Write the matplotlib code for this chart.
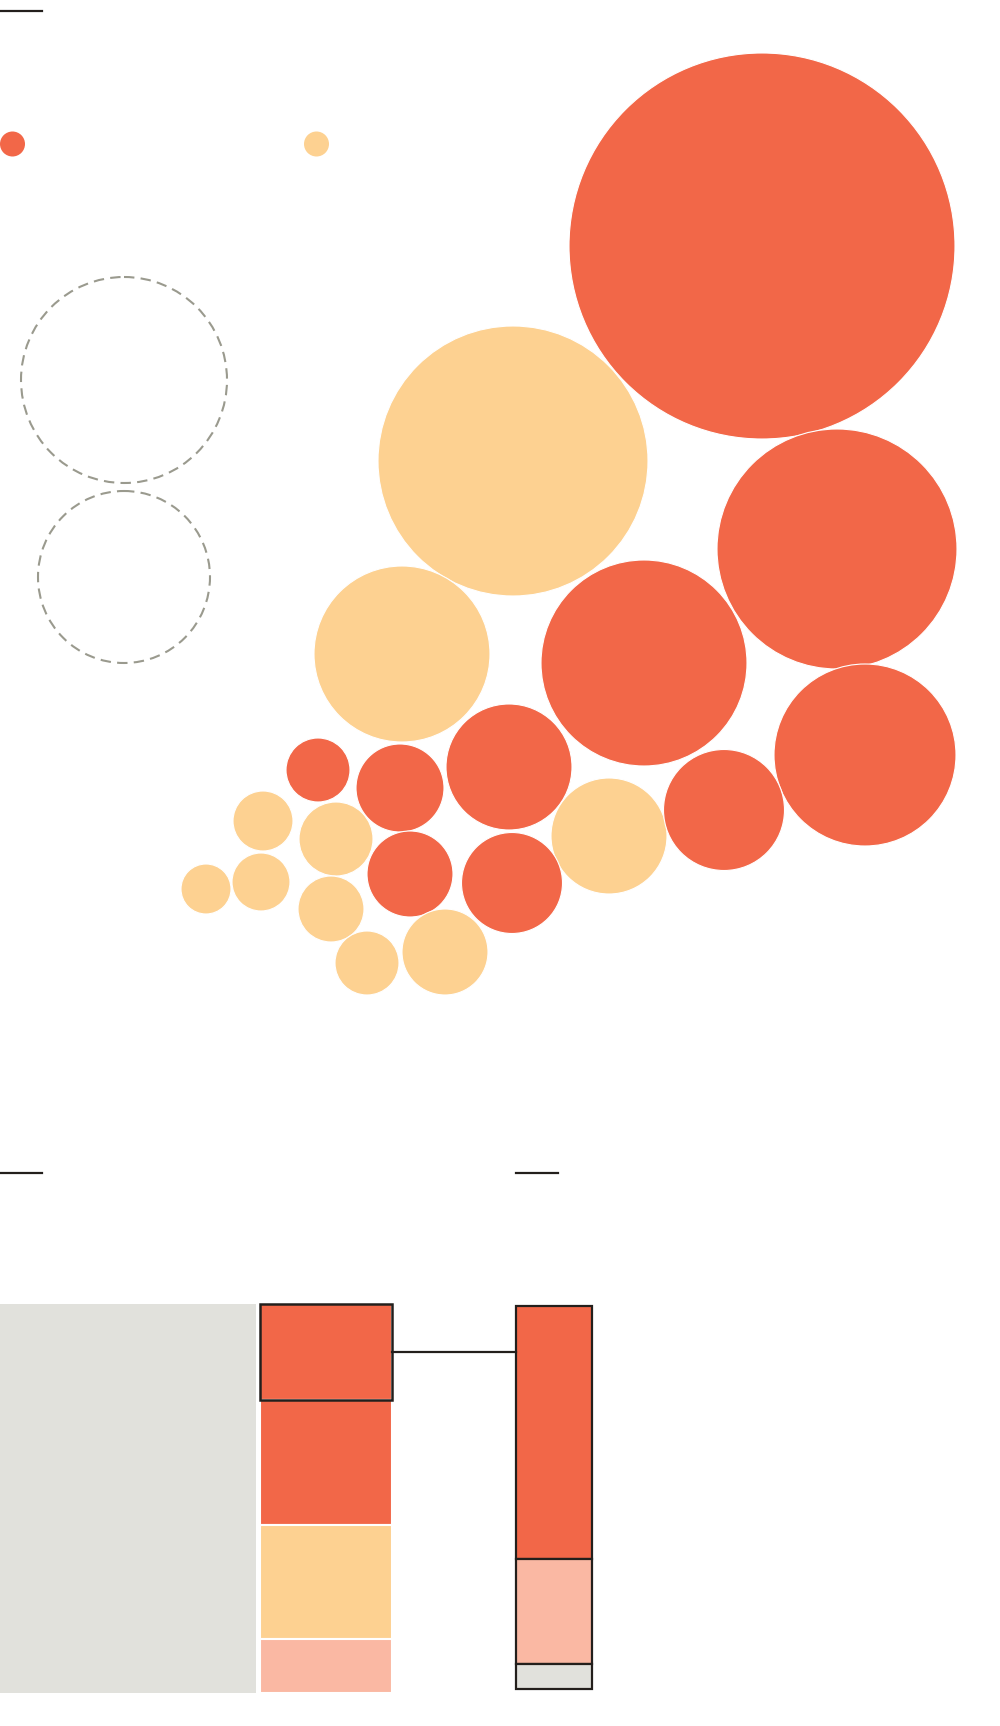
import numpy as np
import matplotlib.pyplot as plt
from matplotlib.patches import Circle

# 色
RED = "#F26748"
YELLOW = "#FDD191"
PINK = "#FAB8A3"
GRAY = "#E1E1DC"
DASH = "#9A9A8E"
INK = "#231F1C"

# バブル（中心x, 中心y, 半径, グループ）
bubble_x = [762, 513, 837, 402, 644, 865, 318, 400, 509, 609, 724,
            263, 336, 410, 512, 206, 261, 331, 367, 445]
bubble_y = [246, 461, 549, 654, 663, 755, 770, 788, 767, 836, 810,
            821, 839, 874, 883, 889, 882, 909, 963, 952]
bubble_r = [193, 135, 120, 88, 103, 91, 32, 44, 63, 58, 60.5,
            30, 37, 43, 50.5, 25, 29, 33, 32, 43]
bubble_group = ["a", "b", "a", "b", "a", "a", "a", "a", "a", "b", "a",
                "b", "b", "a", "a", "b", "b", "b", "b", "b"]
group_color = {"a": RED, "b": YELLOW}

# サイズ凡例の点線円
ref_r = [103, 86]
ref_y = [380, 577]

# 下段：積み上げ棒（%）
left_share = [24.7, 32.2, 29.1, 14.0]
left_colors = [RED, RED, YELLOW, PINK]
right_share = [66.0, 27.4, 6.6]
right_colors = [RED, PINK, GRAY]

fig = plt.figure(figsize=(10, 17.26), dpi=100)
ax = fig.add_axes([0, 0, 1, 1])
ax.set_xlim(0, 1000)
ax.set_ylim(1726, 0)
ax.set_aspect("equal")
ax.axis("off")

# 見出しの短い線
ax.plot([0, 42], [11, 11], color=INK, lw=1.6)
ax.plot([0, 42], [1173, 1173], color=INK, lw=1.6)
ax.plot([516, 558], [1173, 1173], color=INK, lw=1.6)

# 凡例の丸
ax.add_patch(Circle((12.5, 144), 12.5, color=RED, lw=0))
ax.add_patch(Circle((316.5, 144), 12.5, color=YELLOW, lw=0))

# 点線円
for r, cy in zip(ref_r, ref_y):
    ax.add_patch(Circle((124, cy), r, fill=False, edgecolor=DASH,
                        lw=1.5, linestyle=(0, (5, 3))))

# バブル
for x, y, r, g in zip(bubble_x, bubble_y, bubble_r, bubble_group):
    ax.add_patch(Circle((x, y), r, facecolor=group_color[g],
                        edgecolor="white", lw=0.8))

# 下段
left_top, left_h = 1304, 389
right_top, right_h = 1306, 383

ax.bar(0, left_h, bottom=left_top, width=256, align="edge", color=GRAY)

bottoms = left_top + np.concatenate([[0], np.cumsum(left_share)[:-1]]) * left_h / 100
heights = np.array(left_share) * left_h / 100
ax.bar(np.full(len(heights), 260), heights, bottom=bottoms, width=132,
       align="edge", color=left_colors, edgecolor="white", linewidth=1.5)
ax.bar(260, heights[0], bottom=bottoms[0], width=132, align="edge",
       fill=False, edgecolor=INK, linewidth=1.8)

rb = right_top + np.concatenate([[0], np.cumsum(right_share)[:-1]]) * right_h / 100
rh = np.array(right_share) * right_h / 100
ax.bar(np.full(len(rh), 516), rh, bottom=rb, width=76, align="edge",
       color=right_colors, edgecolor=INK, linewidth=1.6)

# 接続線
ax.plot([392, 516], [1352, 1352], color=INK, lw=1.6)

plt.savefig("out.png", dpi=100, facecolor="white")
